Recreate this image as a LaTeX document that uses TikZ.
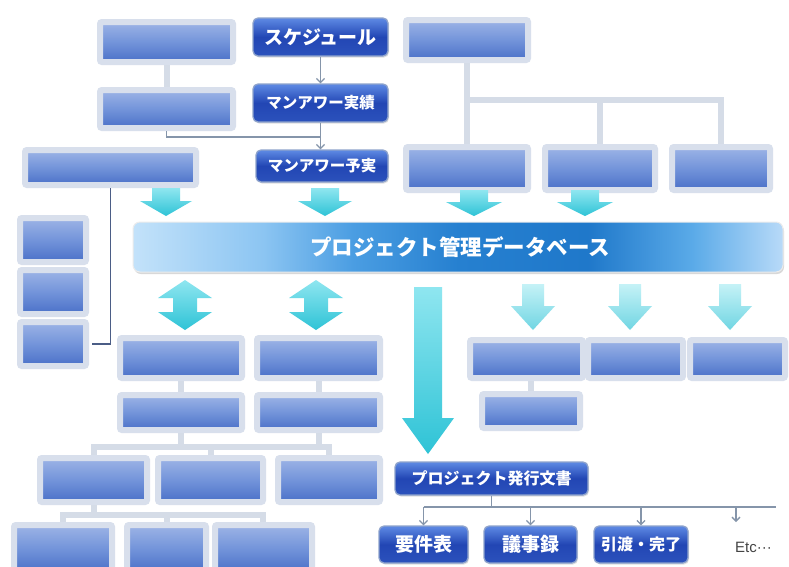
\documentclass[tikz,border=0pt]{standalone}
\usepackage{fontspec}
\setmainfont{Liberation Sans}
\newfontfamily\jp{Noto Sans CJK JP}
\usetikzlibrary{fit,shadows,arrows.meta}
\definecolor{halo}{HTML}{D8DFEC}
\definecolor{bzTop}{HTML}{9DB4E6}
\definecolor{bzMid}{HTML}{7394DA}
\definecolor{bzBot}{HTML}{4A70C8}
\definecolor{jtop}{HTML}{5E8AE4}
\definecolor{jmid}{HTML}{2246B4}
\definecolor{jbot}{HTML}{2C52BC}
\definecolor{jborder}{HTML}{8EA3CC}
\definecolor{dbA}{HTML}{C3E2FA}
\definecolor{dbB}{HTML}{8CC5F2}
\definecolor{dbC}{HTML}{4A9DE2}
\definecolor{dbD}{HTML}{2680D0}
\definecolor{dbE}{HTML}{1F78CA}
\definecolor{dbF}{HTML}{5AAAE8}
\definecolor{dbG}{HTML}{B8DAF8}
\definecolor{cyA}{HTML}{8FE6F0}
\definecolor{cyB}{HTML}{2EC3D6}
\definecolor{lineL}{HTML}{D5DCE7}
\definecolor{lineG}{HTML}{8595AA}
\definecolor{navy}{HTML}{4B5D86}
\definecolor{etc}{HTML}{444444}
\pgfdeclarehorizontalshading{dbshade}{100bp}{color(0bp)=(dbA); color(25bp)=(dbA); color(35bp)=(dbB); color(42bp)=(dbC); color(50bp)=(dbD); color(60bp)=(dbE); color(68bp)=(dbF); color(75bp)=(dbG); color(100bp)=(dbG)}
\newcommand{\jpsize}[1]{\fontsize{#1}{#1}\selectfont}
\newcommand{\DownArrow}[7][cyanarr]{%
  \shade[#1] (#2-#6,#3) -- (#2+#6,#3) -- (#2+#6,#4) -- (#2+#7,#4) -- (#2,#5) -- (#2-#7,#4) -- (#2-#6,#4) -- cycle;}
\newcommand{\DblArrow}[7]{%
  \shade[cyanarr] (#1,#2) -- (#1+#7,#3) -- (#1+#6,#3) -- (#1+#6,#4) -- (#1+#7,#4) -- (#1,#5) -- (#1-#7,#4) -- (#1-#6,#4) -- (#1-#6,#3) -- (#1-#7,#3) -- cycle;}
\tikzset{
  blur/.style={inner sep=0pt, rounded corners=2pt, top color=bzTop, bottom color=bzBot, middle color=bzMid, draw=halo, line width=6pt},
  jbox/.style={inner sep=0pt, rounded corners=5pt, draw=jborder, line width=1.3pt, top color=jtop, bottom color=jbot, middle color=jmid,
    drop shadow={opacity=0.25, shadow xshift=1pt, shadow yshift=-1.5pt}},
  jtext/.style={inner sep=0pt, text=white},
  dbbar/.style={inner sep=0pt, rounded corners=7pt, shading=dbshade, draw=white!85!gray, line width=1pt,
    drop shadow={opacity=0.3, shadow xshift=1pt, shadow yshift=-2pt}},
  cyanarr/.style={top color=cyA, bottom color=cyB, draw=none},
  paleArr/.style={top color=cyA!60!white, bottom color=cyB!80!white, draw=none, opacity=0.85},
  lline/.style={draw=lineL, line width=6pt},
  gline/.style={draw=lineG, line width=1.2pt},
  nline/.style={draw=navy, line width=1.4pt},
  garrow/.style={draw=lineG, line width=1.3pt, -{Straight Barb[length=4pt,width=8pt]}},
}
\begin{document}
\begin{tikzpicture}[x=1pt,y=-1pt]
\useasboundingbox (0,0) rectangle (789,566);
\fill[white] (0,0) rectangle (789,566);

% ---------- light connector lines (behind boxes) ----------
\coordinate (tj) at (467,100);
\draw[lline] (467,60) -- (467,145);
\draw[lline] (tj) -| (600,145);
\draw[lline] (tj) -| (721,145);
\draw[lline] (166.5,62) -- (166.5,90);
\draw[lline] (181,378) -- (181,395);
\draw[lline] (318.5,378) -- (318.5,395);
\draw[lline] (181,430) -- (181,447);
\draw[lline] (318.5,430) -- (318.5,447);
\draw[lline] (93.5,458) |- (181,447) -| (329,458);
\draw[lline] (210.5,447) -- (210.5,458);
\draw[lline] (93.5,502) -- (93.5,515);
\draw[lline] (63,525) |- (263,515) -- (263,525);
\draw[lline] (166.5,515) -- (166.5,525);
\draw[lline] (531,378) -- (531,392);

% ---------- top centre chain ----------
\node[jbox, fit={(253,18)(388,56)}] (S) {};
\node[jtext, font=\jp\bfseries\jpsize{19}] (St) at (S.center) {スケジュール};
\node[jbox, fit={(253,84)(388,122)}] (M1) {};
\node[jtext, font=\jp\bfseries\jpsize{15.5}] (M1t) at (M1.center) {マンアワー実績};
\node[jbox, fit={(256,150)(388,182)}] (M2) {};
\node[jtext, font=\jp\bfseries\jpsize{15.5}] (M2t) at (M2.center) {マンアワー予実};
\draw[garrow] (S) -- (M1);
\draw[garrow] (M1.south) -- (M1.south |- M2.north);

% ---------- top left (blurred) ----------
\node[blur, fit={(100,22)(233,62)}] (A) {};
\node[blur, fit={(100,90)(233,128)}] (B) {};
\coordinate (bj) at (320.5,137);
\draw[gline] (B.south) |- (bj);
\node[blur, fit={(25,150)(196,185)}] (C) {};
\node[blur, fit={(20,218)(86,262)}] (D1) {};
\node[blur, fit={(20,270)(86,314)}] (D2) {};
\node[blur, fit={(20,322)(86,366)}] (D3) {};
\draw[nline] (C.south) -- (C.south |- D3.east) -- ([xshift=3pt]D3.east);

% ---------- top right (blurred) ----------
\node[blur, fit={(406,20)(528,60)}] (T) {};
\node[blur, fit={(406,147)(528,190)}] (R1) {};
\node[blur, fit={(545,147)(655,190)}] (R2) {};
\node[blur, fit={(672,147)(770,190)}] (R3) {};

% ---------- arrows into DB ----------
\DownArrow{166}{188}{201}{216}{14}{26}
\DownArrow{325}{188}{201}{216}{14}{27}
\DownArrow{474}{190}{202}{216}{14}{28}
\DownArrow{585}{190}{202}{216}{14}{28}

% ---------- database bar ----------
\node[dbbar, fit={(133,222)(783,272)}] (DB) {};
\node[jtext, font=\jp\bfseries\jpsize{21.5}] (DBt) at (460,247) {プロジェクト管理データベース};

% ---------- double arrows ----------
\DblArrow{185}{280}{298}{312}{330}{12}{27}
\DblArrow{316}{280}{298}{312}{330}{12}{27}

% ---------- lower left (blurred) ----------
\node[blur, fit={(120,338)(242,378)}] (E) {};
\node[blur, fit={(257,338)(380,378)}] (F) {};
\node[blur, fit={(120,395)(242,430)}] (E2) {};
\node[blur, fit={(257,395)(380,430)}] (F2) {};
\node[blur, fit={(40,458)(147,502)}] (G1) {};
\node[blur, fit={(158,458)(263,502)}] (G2) {};
\node[blur, fit={(278,458)(380,502)}] (G3) {};
\node[blur, fit={(14,525)(112,572)}] (H1) {};
\node[blur, fit={(127,525)(206,572)}] (H2) {};
\node[blur, fit={(215,525)(312,572)}] (H3) {};

% ---------- right (blurred) ----------
\DownArrow[paleArr]{533}{284}{306}{330}{11}{22}
\DownArrow[paleArr]{630}{284}{306}{330}{11}{22}
\DownArrow[paleArr]{730}{284}{306}{330}{11}{22}
\node[blur, fit={(470,340)(583,378)}] (P1) {};
\node[blur, fit={(588,340)(683,378)}] (P2) {};
\node[blur, fit={(690,340)(785,378)}] (P3) {};
\node[blur, fit={(482,394)(580,428)}] (P4) {};

% ---------- big arrow ----------
\DownArrow{428}{287}{418}{454}{14}{26}

% ---------- documents ----------
\node[jbox, fit={(395,462)(588,495)}] (PD) {};
\node[jtext, font=\jp\bfseries\jpsize{16}] (PDt) at (PD.center) {プロジェクト発行文書};
\node[jbox, fit={(379,526)(468,563)}] (K1) {};
\node[jtext, font=\jp\bfseries\jpsize{19}] (K1t) at (K1.center) {要件表};
\node[jbox, fit={(484,526)(577,563)}] (K2) {};
\node[jtext, font=\jp\bfseries\jpsize{19}] (K2t) at (K2.center) {議事録};
\node[jbox, fit={(594,526)(688,563)}] (K3) {};
\node[jtext, font=\jp\bfseries\jpsize{16}] (K3t) at (K3.center) {引渡・完了};
\node[font=\jpsize{15}, text=etc, anchor=west, inner sep=0pt] (ET) at (735,547) {Etc···};
\coordinate (dj) at (PD.south |- 0,507);
\coordinate (dl) at (K1.north |- 0,507);
\coordinate (dr) at (776,507);
\coordinate (et) at (736,522);
\draw[gline] (PD.south) -- (dj);
\draw[gline] (dl) -- (dr);
\draw[garrow] (dl) -- (K1.north);
\draw[garrow] (K2.north |- dj) -- (K2.north);
\draw[garrow] (K3.north |- dj) -- (K3.north);
\draw[garrow] (et |- dj) -- (et);
\end{tikzpicture}
\end{document}
